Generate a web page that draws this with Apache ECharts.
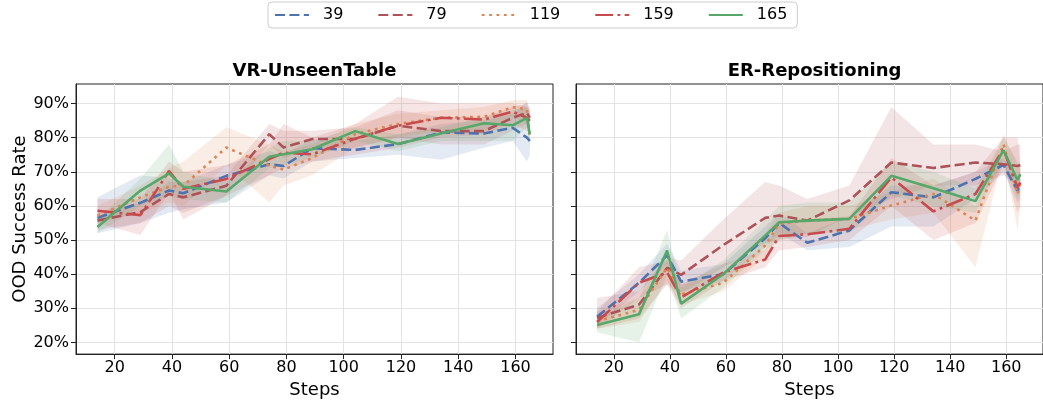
<!DOCTYPE html>
<html><head><meta charset="utf-8">
<script src="https://cdn.jsdelivr.net/npm/echarts@6/dist/echarts.min.js"></script>
<style>html,body{margin:0;padding:0;background:#fff;}#c{width:1043px;height:404px;}</style>
</head><body><div id="c"></div>
<script>
// ---- data ----
const steps = [14, 29, 39, 44, 59, 74, 79, 89, 104, 119, 134, 149, 159, 164, 165];
const seriesNames = ['39', '79', '119', '159', '165'];
const xTicks = [20, 40, 60, 80, 100, 120, 140, 160];
const yTicks = [20, 30, 40, 50, 60, 70, 80, 90];
const panelTitles = ['VR-UnseenTable', 'ER-Repositioning'];

// VR-UnseenTable means
const vr39  = [56.5, 60.9, 64.5, 63.7, 68.8, 72.2, 71.7, 76.9, 76.4, 78.1, 81.5, 81.2, 82.9, 80.0, 79.0];
const vr79  = [55.7, 58.2, 63.5, 62.5, 65.9, 81.0, 77.1, 79.6, 79.6, 83.5, 81.9, 81.9, 85.8, 87.3, 85.8];
const vr119 = [57.2, 62.5, 65.6, 65.9, 77.1, 71.8, 70.6, 74.0, 81.0, 84.0, 85.8, 86.1, 88.9, 88.3, 80.0];
const vr159 = [58.6, 57.3, 70.2, 65.0, 67.9, 73.7, 75.6, 75.1, 79.7, 83.5, 85.8, 85.3, 87.6, 85.8, 84.9];
const vr165 = [53.8, 64.5, 69.5, 65.6, 64.2, 74.4, 75.1, 76.6, 81.9, 78.1, 81.2, 84.2, 83.6, 85.8, 81.0];
// VR-UnseenTable bands (low / high)
const vr39Lo  = [52, 55, 58, 59, 61, 69, 68, 73, 74, 75, 73.5, 77, 79, 73, 75];
const vr39Hi  = [62.5, 69, 68, 67, 72, 76, 75, 79.5, 79, 81, 84, 85, 87, 90.5, 88];
const vr79Lo  = [53, 55, 60, 58, 63, 78, 74, 77, 77, 80, 78, 78, 82, 84, 82];
const vr79Hi  = [58, 61, 67, 67, 69, 84, 82, 82, 83, 88, 86, 86, 89, 90, 89];
const vr119Lo = [55, 58, 61, 60, 72, 61, 66, 69, 77, 80, 82, 82, 86, 84, 76];
const vr119Hi = [60, 66, 71, 73, 83, 78, 76, 78, 84, 87, 88, 89, 91, 91, 83];
const vr159Lo = [55, 51.5, 64, 56, 63, 69, 71, 73, 75, 77, 80, 81, 84, 82, 82];
const vr159Hi = [62, 62, 73, 70, 72, 78, 84, 80, 84, 92, 90, 90, 90, 89, 88];
const vr165Lo = [52, 60, 63, 62, 61, 71, 72, 74, 79, 76, 79, 79, 79, 83, 79];
const vr165Hi = [56, 68, 78, 70, 67, 77, 79, 79, 83, 81, 83, 86, 88, 89, 84];

// ER-Repositioning means
const er39  = [27.5, 37.5, 45.5, 37.8, 40.0, 50.5, 55.0, 49.2, 52.8, 64.0, 62.5, 67.9, 72.0, 64.5, 66.0];
const er79  = [27.2, 31.1, 41.9, 39.8, 48.5, 56.5, 57.2, 55.7, 61.6, 72.7, 71.1, 72.7, 72.2, 71.7, 72.0];
const er119 = [26.2, 29.6, 41.9, 34.0, 37.5, 48.4, 54.8, 55.7, 56.2, 60.1, 63.5, 55.7, 78.1, 63.5, 66.4];
const er159 = [26.0, 37.5, 40.5, 33.2, 40.5, 44.3, 51.2, 51.7, 53.3, 68.3, 58.4, 63.5, 76.6, 65.4, 66.9];
const er165 = [25.1, 28.3, 46.9, 31.4, 40.0, 51.3, 55.2, 55.7, 56.2, 68.8, 65.2, 61.4, 76.3, 67.6, 69.3];
// ER-Repositioning bands (low / high)
const er39Lo  = [25, 35, 43, 35, 38, 48, 52, 47, 48, 54, 54, 62, 70, 61, 62];
const er39Hi  = [30, 40, 49, 41, 43, 54, 58, 52, 57, 66, 66, 70, 74, 68, 69];
const er79Lo  = [24, 27, 37, 34, 42, 49, 50, 51, 57, 62, 66, 66, 69, 66, 67];
const er79Hi  = [33, 35, 45, 44, 56, 67, 66, 62, 66, 89, 78, 78, 76, 78, 78];
const er119Lo = [24, 26, 38, 31, 35, 45, 51, 52, 53, 56, 58, 42, 75, 53, 60];
const er119Hi = [29, 33, 44, 37, 40, 52, 58, 60, 60, 64, 68, 60, 81, 72, 72];
const er159Lo = [24, 33, 37, 30, 38, 42, 47, 48, 50, 60, 50, 55, 72, 58, 60];
const er159Hi = [29, 42, 44, 37, 43, 47, 55, 56, 57, 74, 66, 70, 80, 80, 72];
const er165Lo = [23, 20, 40, 27, 36, 47, 50, 52, 52, 63, 60, 58, 73, 62, 64];
const er165Hi = [27, 33, 53, 36, 44, 56, 60, 61, 61, 73, 70, 65, 80, 73, 72];

// ---- styling ----
const colors = ['#4c72b0', '#ad5257', '#dd8452', '#c94a4d', '#55a868'];
const dashes = [[10, 4.4], [10, 4.4], [2.8, 4.6], [17.8, 4.4, 2.8, 4.4], 'solid'];
const FONT = 'DejaVu Sans';

const panels = [
  {means: [vr39, vr79, vr119, vr159, vr165],
   lo: [vr39Lo, vr79Lo, vr119Lo, vr159Lo, vr165Lo],
   hi: [vr39Hi, vr79Hi, vr119Hi, vr159Hi, vr165Hi]},
  {means: [er39, er79, er119, er159, er165],
   lo: [er39Lo, er79Lo, er119Lo, er159Lo, er165Lo],
   hi: [er39Hi, er79Hi, er119Hi, er159Hi, er165Hi]}
];

const gridLeft = [76, 576];
const grids = gridLeft.map(l => ({left: l, top: 84, width: 477, height: 272, show: true,
  borderColor: '#222', borderWidth: 1, containLabel: false}));

const xAxes = [0, 1].map(i => ({
  type: 'value', gridIndex: i, min: 6.5, max: 173.1,
  name: 'Steps', nameLocation: 'middle', nameGap: 21,
  nameTextStyle: {fontSize: 18, fontFamily: FONT, color: '#000'},
  axisLine: {show: true, lineStyle: {color: '#222', width: 1}},
  axisTick: {show: true, length: 5, lineStyle: {color: '#222'}, customValues: xTicks},
  axisLabel: {fontSize: 16, fontFamily: FONT, color: '#000', margin: 6, customValues: xTicks},
  splitLine: {show: true, lineStyle: {color: '#e3e3e3', width: 1}}
}));

const yAxes = [0, 1].map(i => ({
  type: 'value', gridIndex: i, min: 16.6, max: 95.7,
  name: i === 0 ? 'OOD Success Rate' : '', nameLocation: 'middle', nameGap: 47,
  nameTextStyle: {fontSize: 18, fontFamily: FONT, color: '#000'},
  axisLine: {show: true, lineStyle: {color: '#222', width: 1}},
  axisTick: {show: true, length: 5, lineStyle: {color: '#222'}, customValues: yTicks},
  axisLabel: {show: i === 0, fontSize: 16, fontFamily: FONT, color: '#000', margin: 7,
    customValues: yTicks, formatter: v => v + '%'},
  splitLine: {show: true, lineStyle: {color: '#e3e3e3', width: 1}}
}));

const series = [];
panels.forEach((p, pi) => {
  seriesNames.forEach((nm, si) => {
    const lo = p.lo[si], hi = p.hi[si];
    series.push({
      type: 'custom', name: 'band-' + nm, xAxisIndex: pi, yAxisIndex: pi,
      silent: true, z: 1,
      data: steps.map((s, k) => [s, lo[k], hi[k]]),
      encode: {x: 0, y: [1, 2]},
      renderItem: (params, api) => {
        if (params.dataIndex !== 0) return;
        const pts = [];
        for (let k = 0; k < steps.length; k++) pts.push(api.coord([steps[k], hi[k]]));
        for (let k = steps.length - 1; k >= 0; k--) pts.push(api.coord([steps[k], lo[k]]));
        return {type: 'polygon', shape: {points: pts},
          style: {fill: colors[si], opacity: 0.15}};
      }
    });
  });
  seriesNames.forEach((nm, si) => {
    series.push({
      type: 'line', name: nm, xAxisIndex: pi, yAxisIndex: pi, z: 3,
      symbol: 'none', showSymbol: false,
      data: steps.map((s, k) => [s, p.means[si][k]]),
      color: colors[si],
      lineStyle: {color: colors[si], width: 2.6, type: dashes[si]}
    });
  });
});

const chart = echarts.init(document.getElementById('c'), null, {renderer: 'canvas'});
chart.setOption({
  animation: false,
  textStyle: {fontFamily: FONT},
  title: panelTitles.map((t, i) => ({
    text: t, left: gridLeft[i] + 238.5, top: 62, padding: 0, textAlign: 'center',
    textStyle: {fontSize: 18, fontWeight: 'bold', fontFamily: FONT, color: '#000'}
  })),
  legend: {
    data: seriesNames, left: 268, top: 2, padding: [5, 10, 5, 6],
    itemWidth: 34, itemHeight: 14, itemGap: 34,
    itemStyle: {opacity: 0},
    borderColor: '#cccccc', borderWidth: 1, borderRadius: 4,
    textStyle: {fontSize: 16, fontFamily: FONT, color: '#000', padding: [0, 0, 0, 9]}
  },
  grid: grids,
  xAxis: xAxes,
  yAxis: yAxes,
  series: series
});
</script>
</body></html>
